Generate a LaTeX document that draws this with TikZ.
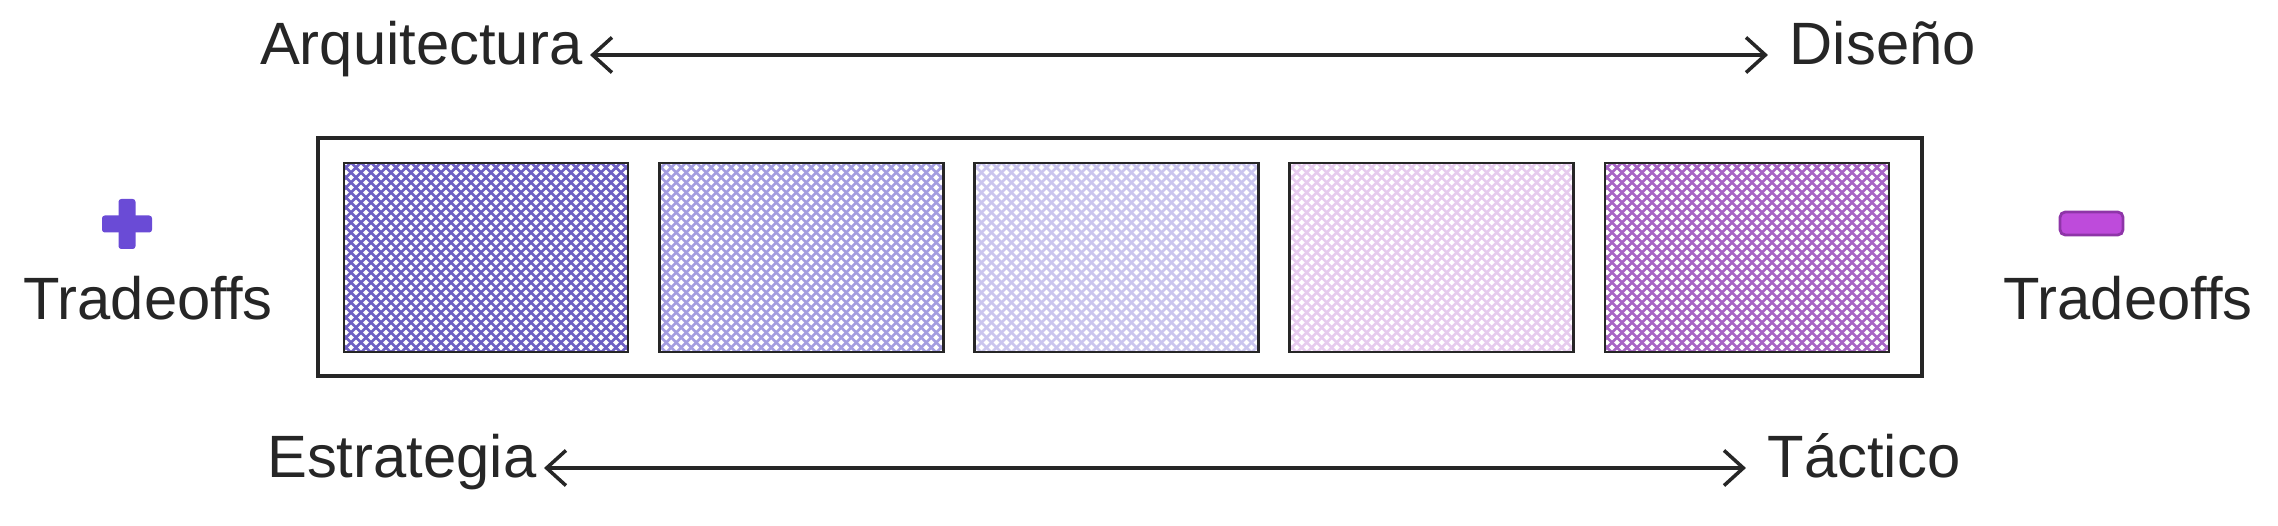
\documentclass[tikz,border=0pt]{standalone}
\usepackage{fontspec}
\setmainfont{Liberation Sans}
\usepackage{xcolor}
\usepackage{tikz}
\usetikzlibrary{arrows.meta}
\usetikzlibrary{calc}
\definecolor{hatchA}{HTML}{6F61C4}
\definecolor{hatchB}{HTML}{A49DE0}
\definecolor{hatchC}{HTML}{CAC5EE}
\definecolor{hatchD}{HTML}{E6CBEE}
\definecolor{hatchE}{HTML}{A865C6}
\definecolor{pluscolor}{HTML}{6A4BD6}
\definecolor{minuscolor}{HTML}{BE4BDB}
\definecolor{minusedge}{HTML}{8E35A8}
\colorlet{inkcolor}{black!85}
\tikzstyle{lbl}=[inner xsep=2pt,font=\fontsize{17}{20}\selectfont,text=inkcolor]
\tikzstyle{rwhead}=[>/.tip={Straight Barb[length=5.5pt,width=10pt,line width=1pt]}]
\tikzstyle{rw}=[line width=1.1pt,draw=inkcolor,rwhead,<->,shorten >=4pt]
\tikzstyle{band}=[draw=inkcolor,line width=1pt,minimum width=16.04cm,minimum height=2.38cm,inner sep=0pt]
\tikzset{cell/.style={draw=inkcolor,line width=.75pt,minimum width=2.84cm,minimum height=1.89cm,inner sep=0pt,
  path picture={
    \begin{scope}[shift={(path picture bounding box.center)}]
    \foreach \k in {-24,...,24}{
      \draw[#1,line width=.75pt] (\k*0.1-1,-1) -- ++(2,2);
      \draw[#1,line width=.75pt] (\k*0.1-1,1) -- ++(2,-2);
    }
    \end{scope}}}}
\begin{document}
\begin{tikzpicture}
	\useasboundingbox (0,0) rectangle (22.78,-5.26);
	% scale labels
	\node[lbl,anchor=mid east] (arq) at (5.90,-0.55) {Arquitectura};
	\node[lbl,anchor=mid west] (dis) at (17.82,-0.55) {Diseño};
	\node[lbl,anchor=mid east] (est) at (5.44,-4.68) {Estrategia};
	\node[lbl,anchor=mid west] (tac) at (17.60,-4.68) {Táctico};
	\draw[rw] (arq.mid east) -- (dis.mid west);
	\draw[rw] (est.mid east) -- (tac.mid west);
	% band of options
	\node[band] (strip) at (11.20,-2.57) {};
	\foreach \c [count=\i] in {hatchA,hatchB,hatchC,hatchD,hatchE}
	  \node[cell=\c] (c\i) at ({4.86+3.1525*(\i-1)},-2.575) {};
	% plus / minus
	\fill[pluscolor,rounded corners=.8pt] (1.185,-1.99) rectangle (1.355,-2.49);
	\fill[pluscolor,rounded corners=.8pt] (1.02,-2.155) rectangle (1.52,-2.325);
	\draw[minusedge,fill=minuscolor,line width=.8pt,rounded corners=1.5pt] (20.60,-2.12) rectangle (21.23,-2.35);
	\node[lbl] (tradeL) at (1.48,-2.98) {Tradeoffs};
	\node[lbl] (tradeR) at (21.28,-2.98) {Tradeoffs};
\end{tikzpicture}
\end{document}
